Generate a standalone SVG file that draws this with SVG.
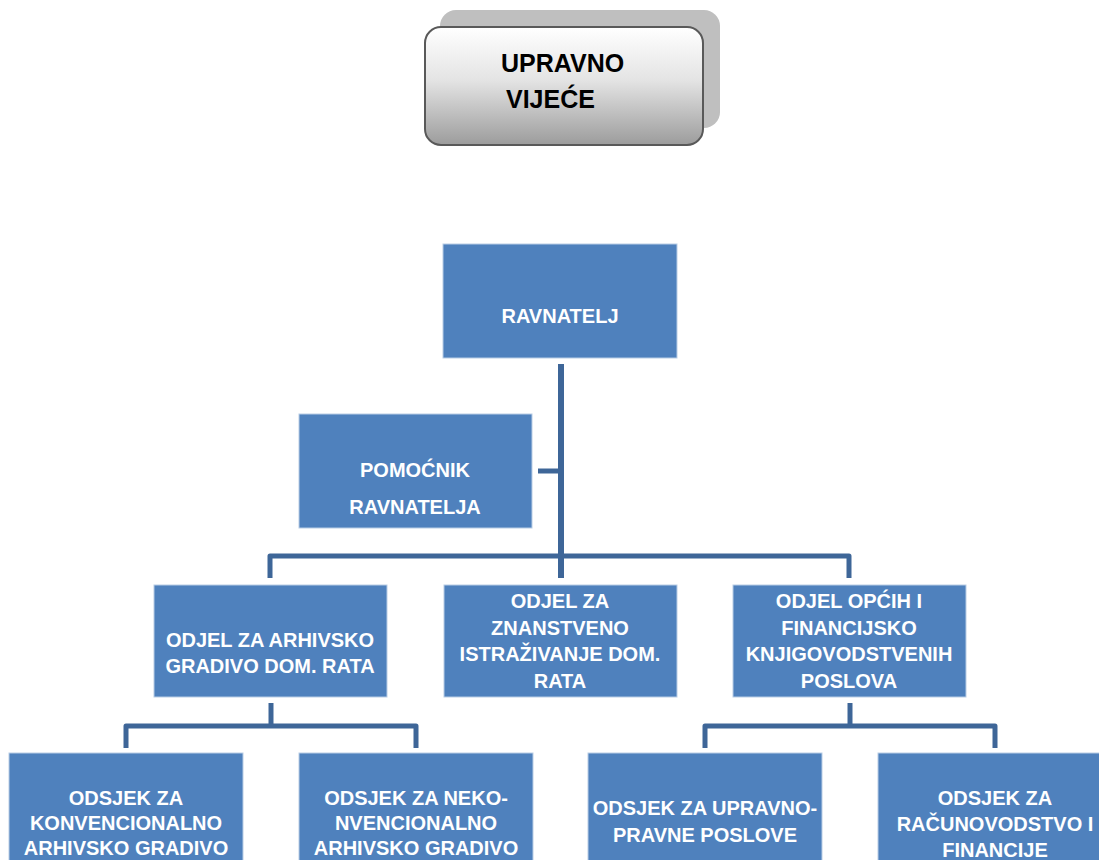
<svg xmlns="http://www.w3.org/2000/svg" width="1099" height="860" viewBox="0 0 1099 860">
<defs>
<linearGradient id="gv" x1="0" y1="0" x2="0" y2="1">
<stop offset="0" stop-color="#ffffff"/>
<stop offset="0.45" stop-color="#e4e4e4"/>
<stop offset="1" stop-color="#9c9c9c"/>
</linearGradient>
</defs>
<style>
.box{fill:#4f81bd;stroke:#b9cde5;stroke-width:1}
.t{font-family:"Liberation Sans",Arial,sans-serif;font-weight:bold;font-size:20px;fill:#ffffff;text-anchor:middle}
.tk{font-family:"Liberation Sans",Arial,sans-serif;font-weight:bold;font-size:25px;fill:#000000}
.c{fill:none;stroke:#3e6698;stroke-width:5;stroke-linejoin:round}
</style>
<rect width="1099" height="860" fill="#ffffff"/>
<g id="upravno-vijece">
<rect x="440" y="10" width="280" height="118" rx="16" fill="#bfbfbf"/>
<rect x="425" y="27" width="278" height="118" rx="16" fill="url(#gv)" stroke="#595959" stroke-width="2"/>
<text class="tk" x="501" y="72">UPRAVNO</text>
<text class="tk" x="506" y="108">VIJEĆE</text>
</g>
<g id="connectors">
<line class="c" x1="561" y1="364" x2="561" y2="578" style="stroke-width:6"/>
<line class="c" x1="538" y1="471" x2="561" y2="471"/>
<path class="c" d="M270 578 V556 H849 V578"/>
<line class="c" x1="271" y1="703" x2="271" y2="726"/>
<path class="c" d="M126 748 V726 H416 V748"/>
<line class="c" x1="850" y1="703" x2="850" y2="726"/>
<path class="c" d="M705 748 V726 H995 V748"/>
</g>
<g id="ravnatelj">
<rect class="box" x="443" y="244" width="234" height="114"/>
<text class="t" x="560" y="323">RAVNATELJ</text>
</g>
<g id="pomocnik">
<rect class="box" x="299" y="414" width="233" height="114"/>
<text class="t" x="415" y="477">POMOĆNIK</text>
<text class="t" x="415" y="514">RAVNATELJA</text>
</g>
<g id="odjel-arhivsko">
<rect class="box" x="154" y="585" width="233" height="112"/>
<text class="t" x="270" y="647">ODJEL ZA ARHIVSKO</text>
<text class="t" x="270" y="673">GRADIVO DOM. RATA</text>
</g>
<g id="odjel-znanstveno">
<rect class="box" x="444" y="585" width="233" height="112"/>
<text class="t" x="560" y="608">ODJEL ZA</text>
<text class="t" x="560" y="635">ZNANSTVENO</text>
<text class="t" x="560" y="661">ISTRAŽIVANJE DOM.</text>
<text class="t" x="560" y="688">RATA</text>
</g>
<g id="odjel-opcih">
<rect class="box" x="733" y="585" width="233" height="112"/>
<text class="t" x="849" y="608">ODJEL OPĆIH I</text>
<text class="t" x="849" y="635">FINANCIJSKO</text>
<text class="t" x="849" y="661">KNJIGOVODSTVENIH</text>
<text class="t" x="849" y="688">POSLOVA</text>
</g>
<g id="odsjek-konvencionalno">
<rect class="box" x="9" y="753" width="234" height="120"/>
<text class="t" x="126" y="805">ODSJEK ZA</text>
<text class="t" x="126" y="830">KONVENCIONALNO</text>
<text class="t" x="126" y="855">ARHIVSKO GRADIVO</text>
</g>
<g id="odsjek-nekonvencionalno">
<rect class="box" x="299" y="753" width="234" height="120"/>
<text class="t" x="416" y="805">ODSJEK ZA NEKO-</text>
<text class="t" x="416" y="830">NVENCIONALNO</text>
<text class="t" x="416" y="855">ARHIVSKO GRADIVO</text>
</g>
<g id="odsjek-upravno">
<rect class="box" x="588" y="753" width="234" height="120"/>
<text class="t" x="705" y="815">ODSJEK ZA UPRAVNO-</text>
<text class="t" x="705" y="842">PRAVNE POSLOVE</text>
</g>
<g id="odsjek-racunovodstvo">
<rect class="box" x="878" y="753" width="234" height="120"/>
<text class="t" x="995" y="805">ODSJEK ZA</text>
<text class="t" x="995" y="831">RAČUNOVODSTVO I</text>
<text class="t" x="995" y="857">FINANCIJE</text>
</g>
</svg>
